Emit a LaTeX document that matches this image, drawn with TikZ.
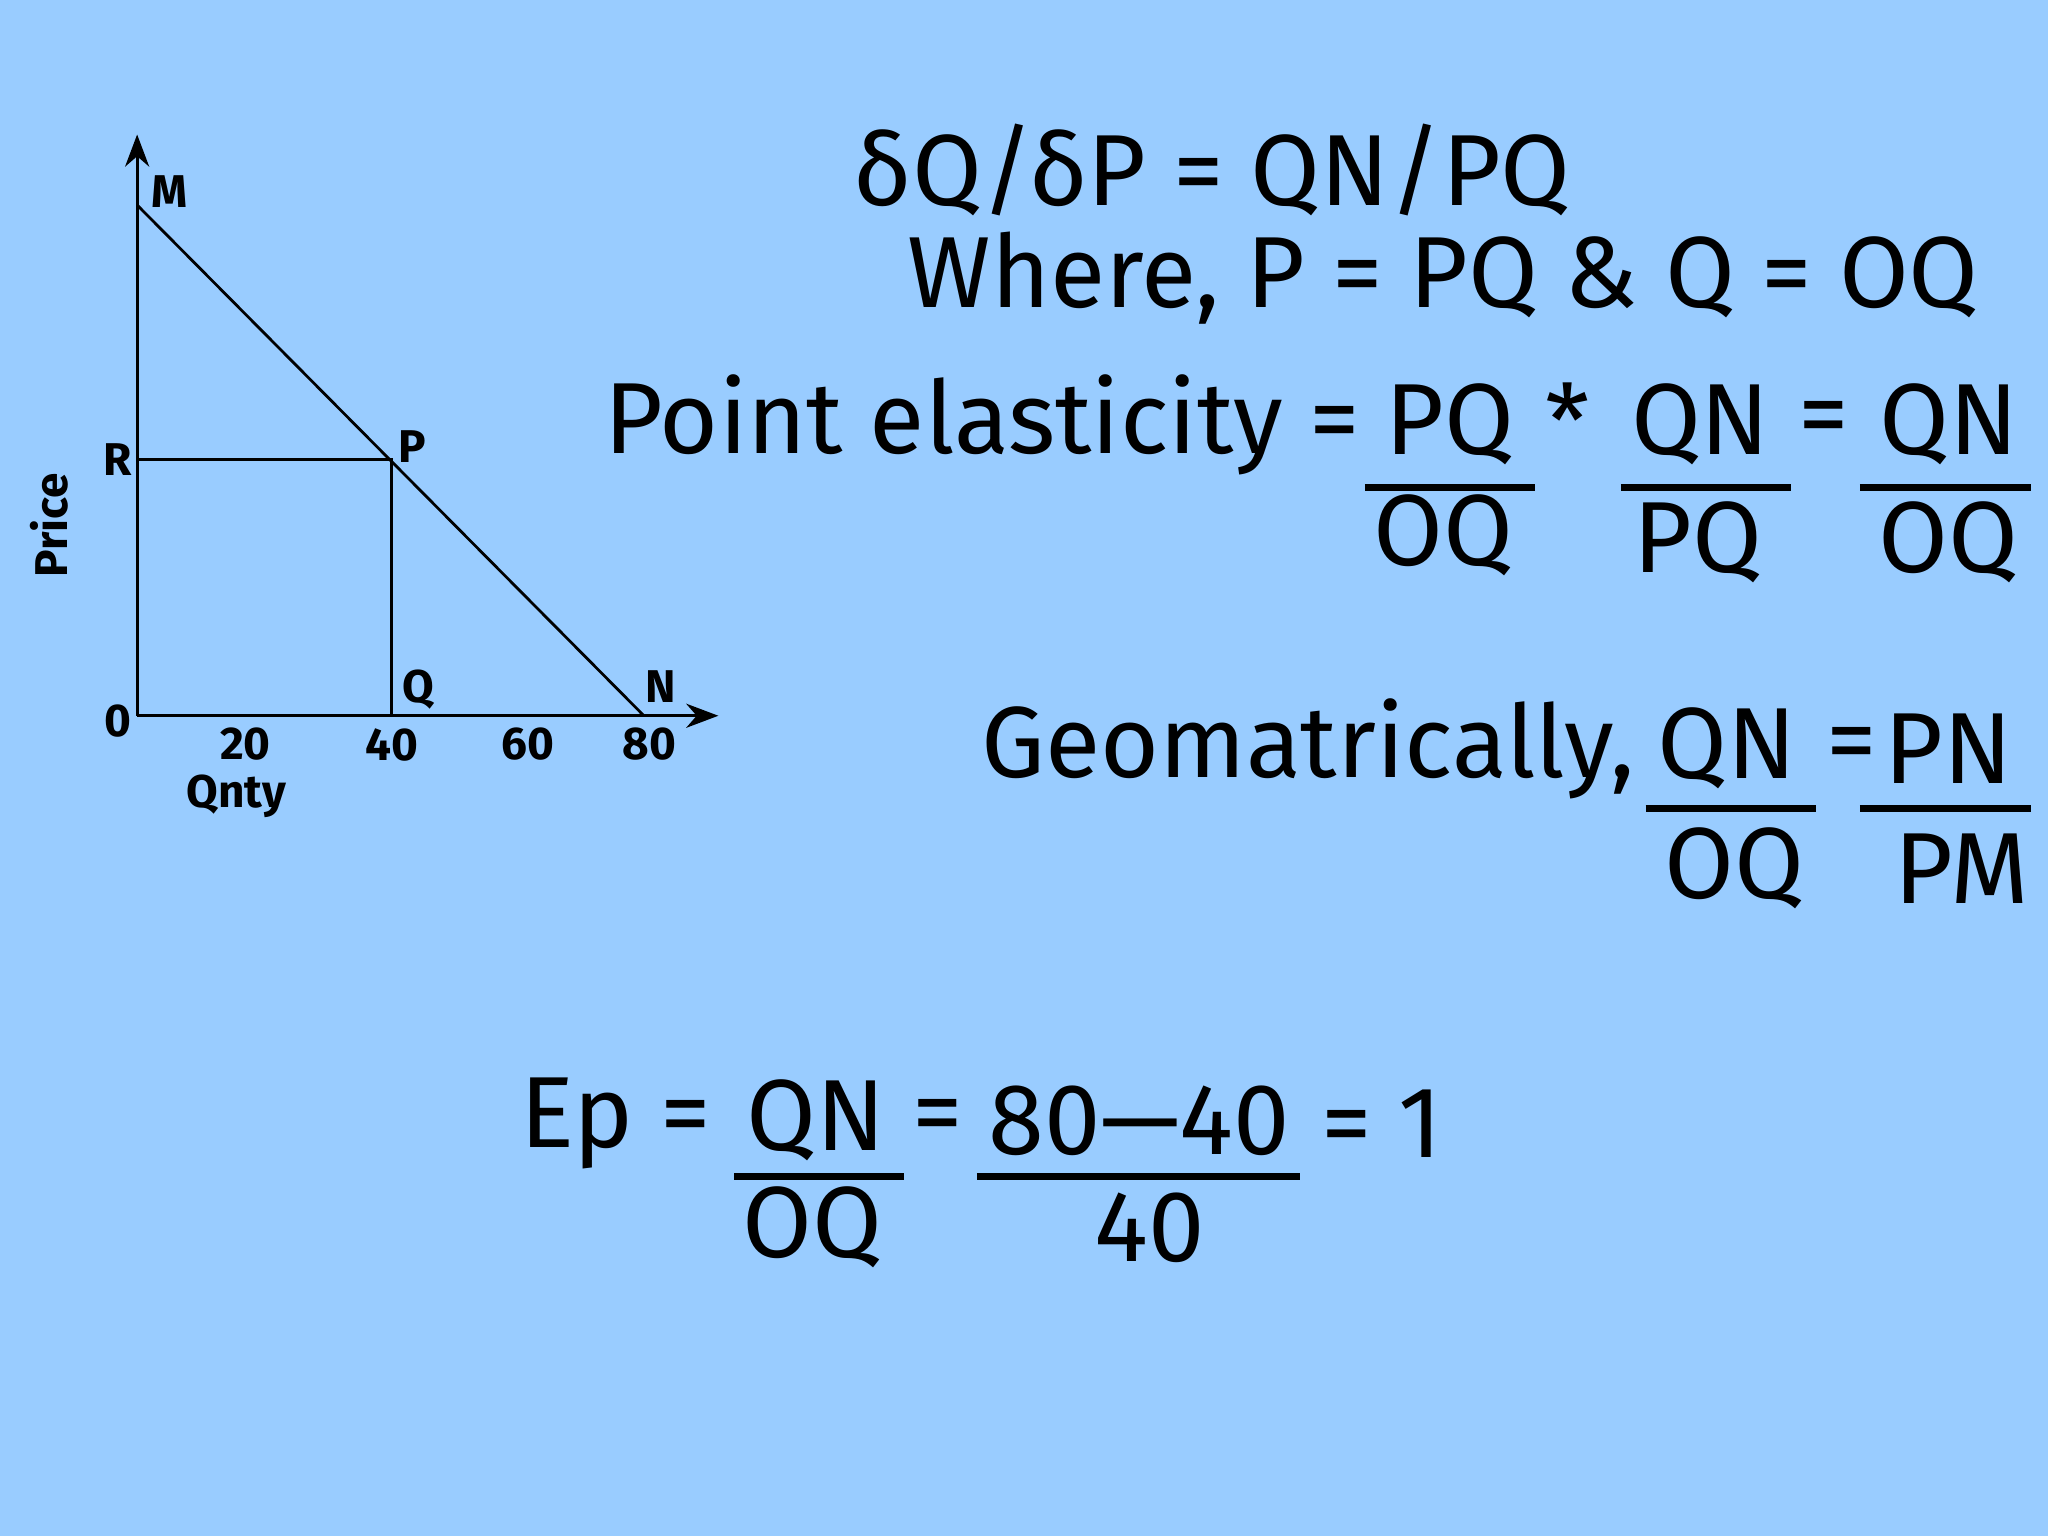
\documentclass[tikz,border=0pt]{standalone}
\usepackage{fontspec}
\setmainfont{Fira Sans}
\usetikzlibrary{arrows.meta}
\definecolor{bg}{RGB}{153,204,255}
\begin{document}
\begin{tikzpicture}[x=0.01cm,y=-0.01cm,
  big/.style={font=\fontsize{22}{24}\selectfont,inner sep=0pt},
  sm/.style={font=\fontsize{10}{12}\selectfont\bfseries,inner sep=0pt},
  bar/.style={line width=1.6pt},
  ln/.style={line width=0.6pt}]
\fill[bg] (0,0) rectangle (1568,1176);
\useasboundingbox (0,0) rectangle (1568,1176);
% graph
\coordinate (O) at (105,548);
\coordinate (Ytop) at (105,103);
\coordinate (Xend) at (550,548);
\coordinate (Mp) at (105,157);
\coordinate (Np) at (493,548);
\coordinate (Rp) at (105,352);
\coordinate (Pp) at (300,352);
\coordinate (Qp) at (300,548);
\draw[ln,-{Stealth[length=7pt]}] (O) -- (Ytop);
\draw[ln,-{Stealth[length=7pt]}] (O) -- (Xend);
\draw[ln] (Mp) -- (Np);
\draw[ln] (Rp) -- (Pp) -- (Qp);
\node[sm] (lM) at (130,147) {M};
\node[sm] (lR) at (90,352) {R};
\node[sm] (lP) at (316,342) {P};
\node[sm] (lQ) at (320,528) {Q};
\node[sm] (lN) at (506,526) {N};
\node[sm] (l0) at (90,552) {0};
\node[sm] (l20) at (188,570) {20};
\node[sm] (l40) at (300,570) {40};
\node[sm] (l60) at (404,570) {60};
\node[sm] (l80) at (497,570) {80};
\node[sm] (qn) at (181,610) {Qnty};
\node[sm,rotate=90] (pr) at (38,402) {Price};
% equations
\node[big] (e1) at (928,130) {δQ/δP = QN/PQ};
\node[big] (e2) at (1105,213) {Where, P = PQ \& Q = OQ};
\node[big,anchor=east] (e3) at (1042,325) {Point elasticity =};
\node[big] (f1n) at (1110,325) {PQ};
\draw[bar] (1045,373) -- (1175,373);
\node[big] (f1d) at (1105,410) {OQ};
\node[big] (st) at (1200,322) {*};
\node[big] (f2n) at (1302,325) {QN};
\draw[bar] (1241,373) -- (1371,373);
\node[big] (f2d) at (1300,415) {PQ};
\node[big] (eq1) at (1396,325) {=};
\node[big] (f3n) at (1492,325) {QN};
\draw[bar] (1424,373) -- (1555,373);
\node[big] (f3d) at (1492,415) {OQ};
\node[big,anchor=east] (g) at (1252,573) {Geomatrically,};
\node[big] (g1n) at (1322,573) {QN};
\draw[bar] (1260,619) -- (1390,619);
\node[big] (g1d) at (1328,665) {OQ};
\node[big] (eq2) at (1418,575) {=};
\node[big] (g2n) at (1492,573) {PN};
\draw[bar] (1424,619) -- (1555,619);
\node[big] (g2d) at (1502,665) {PM};
\node[big,anchor=east] (ep) at (545,860) {Ep =};
\node[big] (h1n) at (625,858) {QN};
\draw[bar] (562,901) -- (692,901);
\node[big] (h1d) at (622,940) {OQ};
\node[big] (eq3) at (718,860) {=};
\node[big] (h2n) at (872,858) {80—40};
\draw[bar] (748,901) -- (995,901);
\node[big] (h2d) at (880,940) {40};
\node[big] (h3) at (1058,860) {= 1};
\end{tikzpicture}
\end{document}
